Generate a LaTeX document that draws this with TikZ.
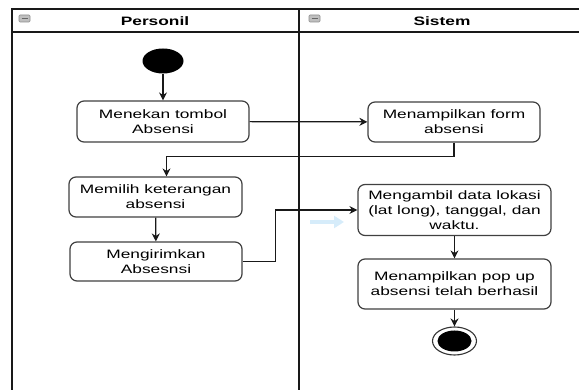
\documentclass[tikz,border=0pt]{standalone}
\usepackage{fontspec}
\setmainfont[FakeStretch=1.42]{Liberation Sans}
\usetikzlibrary{arrows.meta,shapes.geometric}
\begin{document}
\begin{tikzpicture}[x=1pt,y=-1pt,
  lane/.style={draw=black!90, line width=1.3pt},
  act/.style={draw=black!75, line width=1.2pt, rounded corners=7pt, fill=white, align=center, font=\fontsize{12.2}{15}\selectfont, inner sep=0pt},
  flow/.style={draw=black!90, line width=1.2pt, -{Stealth[length=8pt,width=8pt]}},
  lanetitle/.style={font=\fontsize{12.2}{15}\selectfont\bfseries},
  laneicon/.style={draw=black!45, fill=black!25, rounded corners=1pt, line width=0.6pt}]
\useasboundingbox (0,0) rectangle (579,390);
\draw[lane] (12,390) -- (12,9) -- (579,9);
\draw[lane] (12,32) -- (579,32);
\draw[lane] (299,9) -- (299,390);
\node[lanetitle] (personil) at (155,21) {Personil};
\node[lanetitle] (sistem) at (442,21) {Sistem};
\draw[laneicon] (19,15) rectangle (30,22);
\draw[black!60, line width=0.8pt] (21.5,18.5) -- (27.5,18.5);
\draw[laneicon] (309,15) rectangle (320,22);
\draw[black!60, line width=0.8pt] (311.5,18.5) -- (317.5,18.5);
\node[ellipse, fill=black, minimum width=41pt, minimum height=25pt, inner sep=0pt] (start) at (163,61) {};
\node[act, minimum width=172pt, minimum height=41pt] (tombol) at (163,121.5) {Menekan tombol\\Absensi};
\node[act, minimum width=172pt, minimum height=40pt] (form) at (454,122) {Menampilkan form\\absensi};
\node[act, minimum width=173pt, minimum height=40pt] (keterangan) at (155.5,197) {Memilih keterangan\\absensi};
\node[act, minimum width=172pt, minimum height=39pt] (kirim) at (156,261.5) {Mengirimkan\\Absesnsi};
\node[act, minimum width=193pt, minimum height=51pt] (lokasi) at (454.5,210) {Mengambil data lokasi\\(lat long), tanggal, dan\\waktu.};
\node[act, minimum width=193pt, minimum height=50pt] (popup) at (454.5,284) {Menampilkan pop up\\absensi telah berhasil};
\node[ellipse, draw=black!80, line width=1.1pt, fill=white, minimum width=44pt, minimum height=28pt, inner sep=0pt] (finish) at (454.5,341) {};
\node[ellipse, fill=black, minimum width=34pt, minimum height=21pt, inner sep=0pt] (finishdot) at (finish) {};
\coordinate (hintA) at (310,222);
\coordinate (hintB) at (344,222);
\draw[flow] (start) -- (tombol);
\draw[flow] (tombol) -- (form);
\draw[flow] (form.south) -- ++(0,14) -| ([xshift=11pt]keterangan.north);
\draw[flow] (keterangan) -- (kirim);
\draw[flow] (kirim.east) -- ++(33,0) |- (lokasi.west);
\draw[flow] (lokasi) -- (popup);
\draw[flow] (popup) -- (finish);
\draw[draw={rgb,255:red,214;green,236;blue,250}, line width=4pt, -{Triangle[length=10pt,width=12pt]}] (hintA) -- (hintB);
\end{tikzpicture}
\end{document}
